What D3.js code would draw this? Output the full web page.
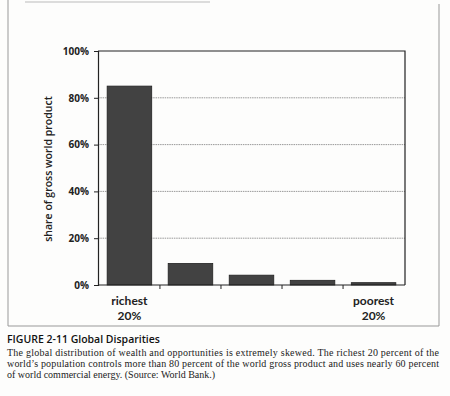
<!DOCTYPE html>
<html lang="en">
<head>
<meta charset="UTF-8">
<title>Global Disparities</title>
<script src="https://cdn.jsdelivr.net/npm/d3@7"></script>
<style>
  body{ margin:0; background:#fdfdfc; }
  svg{ display:block; }
  .tick-label{ font-family:"Open Sans", sans-serif; font-weight:700; font-size:10px; fill:#222; }
  .cat-label{ font-family:Lato, "Open Sans", sans-serif; font-weight:700; font-size:12px; fill:#222; }
  .y-title{ font-family:"Open Sans", sans-serif; font-weight:600; font-size:10.5px; fill:#222; }
  .fig-title{ font-family:"Open Sans", sans-serif; font-weight:600; font-size:10.5px; fill:#111; }
  .fig-text{ font-family:"Liberation Serif", serif; font-size:10px; fill:#222; }
</style>
</head>
<body>
<svg width="450" height="396" viewBox="0 0 450 396"></svg>
<script>
// data
const groups = ["q1", "q2", "q3", "q4", "q5"];
const shares = [85, 9.2, 4.2, 2.0, 1.0];
const groupLabels = [["richest", "20%"], [], [], [], ["poorest", "20%"]];
const yTicks = [0, 20, 40, 60, 80, 100];
const gridTicks = [20, 40, 60, 80];
const yTitle = "share of gross world product";
const figTitle = "FIGURE 2-11 Global Disparities";
const figText = [
  "The global distribution of wealth and opportunities is extremely skewed. The richest 20 percent of the",
  "world\u2019s population controls more than 80 percent of the world gross product and uses nearly 60 percent",
  "of world commercial energy. (Source: World Bank.)"
];

let svg = d3.select('svg');
let plot = {left:98, right:405, top:51, bottom:285};

let xScale = d3.scaleBand().domain(groups)
  .range([plot.left, plot.right])
  .paddingInner(0.27).paddingOuter(0.15);
let yScale = d3.scaleLinear().domain([0, 100]).range([plot.bottom, plot.top]);

// outer frame of the figure
svg.append('path')
  .attr('d', `M8,0 V326 H439 V4`)
  .attr('fill', 'none').attr('stroke', '#999').attr('stroke-width', 1);
svg.append('line')
  .attr('x1', 25).attr('x2', 210).attr('y1', 2).attr('y2', 2)
  .attr('stroke', '#bbb').attr('stroke-width', 1);

// gridlines
svg.append('g').selectAll('line').data(gridTicks).join('line')
  .attr('x1', plot.left).attr('x2', plot.right)
  .attr('y1', d => yScale(d)).attr('y2', d => yScale(d))
  .attr('stroke', '#999').attr('stroke-width', 1)
  .attr('stroke-dasharray', '1.5,0.8');

// plot box: top and right
svg.append('path')
  .attr('d', `M${plot.left},${plot.top} H${plot.right} V${plot.bottom}`)
  .attr('fill', 'none').attr('stroke', '#222').attr('stroke-width', 1.2);

// bars
svg.append('g').selectAll('rect').data(shares).join('rect')
  .attr('x', (d, i) => xScale(groups[i]))
  .attr('y', d => yScale(d))
  .attr('width', xScale.bandwidth())
  .attr('height', d => plot.bottom - yScale(d))
  .attr('fill', '#424242')
  .attr('stroke', '#222').attr('stroke-width', 0.8);

// y axis
let yAxis = svg.append('g')
  .attr('transform', `translate(${plot.left},0)`)
  .call(d3.axisLeft(yScale).tickValues(yTicks).tickSize(4).tickPadding(5)
    .tickFormat(d => d + '%'));
yAxis.select('.domain').attr('stroke', '#222').attr('stroke-width', 1.2);
yAxis.selectAll('.tick line').attr('stroke', '#222');
yAxis.selectAll('.tick text').attr('class', 'tick-label').attr('fill', null);

// x axis with ticks between the bands
let step = xScale.step();
let bounds = groups.slice(1).map(g => xScale(g) - step * xScale.paddingInner() / 2);
let xAxisG = svg.append('g');
xAxisG.append('line')
  .attr('x1', plot.left).attr('x2', plot.right)
  .attr('y1', plot.bottom).attr('y2', plot.bottom)
  .attr('stroke', '#222').attr('stroke-width', 1.2);
xAxisG.selectAll('line.tk').data(bounds).join('line')
  .attr('class', 'tk')
  .attr('x1', d => d).attr('x2', d => d)
  .attr('y1', plot.bottom).attr('y2', plot.bottom + 4)
  .attr('stroke', '#222');

// category labels
svg.append('g').selectAll('text').data(groups).join('text')
  .attr('class', 'cat-label')
  .attr('text-anchor', 'middle')
  .attr('x', d => xScale(d) + xScale.bandwidth() / 2)
  .attr('y', 305)
  .selectAll('tspan').data((d, i) => groupLabels[i]).join('tspan')
  .attr('x', function () { return this.parentNode.getAttribute('x'); })
  .attr('dy', (d, i) => i === 0 ? 0 : 14.5)
  .text(d => d);

// y title
svg.append('text')
  .attr('class', 'y-title')
  .attr('text-anchor', 'middle')
  .attr('transform', `translate(52,${(plot.top + plot.bottom) / 2 + 1}) rotate(-90)`)
  .text(yTitle);

// caption
svg.append('text').attr('class', 'fig-title')
  .attr('x', 7).attr('y', 343).text(figTitle);
svg.append('g').selectAll('text').data(figText).join('text')
  .attr('class', 'fig-text')
  .attr('x', 7)
  .attr('y', (d, i) => 355.5 + i * 11)
  .attr('textLength', (d, i) => i < 2 ? 432 : null)
  .attr('lengthAdjust', 'spacing')
  .text(d => d);
</script>
</body>
</html>
